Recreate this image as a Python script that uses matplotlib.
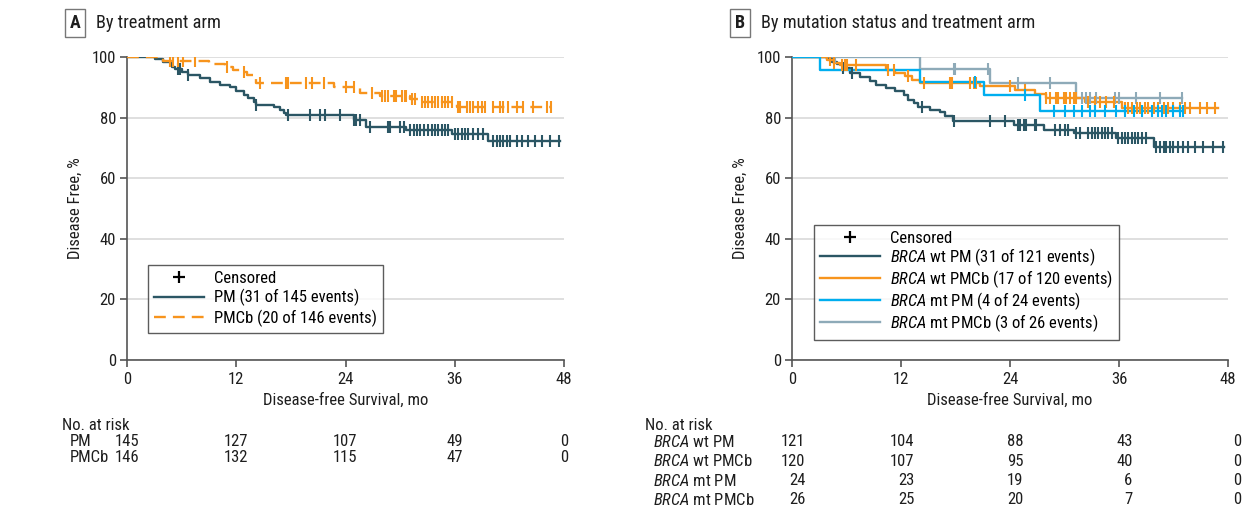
import numpy as np
import matplotlib
matplotlib.use("Agg")
import matplotlib.pyplot as plt
import matplotlib.transforms as mtransforms
import matplotlib.font_manager as fm
from matplotlib.lines import Line2D

# ---------------- Font selection (condensed face if available) ----------------
_entries = fm.fontManager.ttflist


def _has(name, stretch=None):
    return any(f.name == name and (stretch is None or f.stretch == stretch) for f in _entries)


FAM, STRETCH = 'DejaVu Sans', 'normal'
for cand in ['Liberation Sans Narrow', 'Roboto Condensed', 'Open Sans Condensed', 'Noto Sans Condensed']:
    if _has(cand):
        FAM, STRETCH = cand, 'normal'
        break
else:
    for cand in ['Noto Sans', 'Open Sans', 'Roboto', 'DejaVu Sans']:
        found = [f for f in _entries if f.name == cand and f.stretch in ('condensed', 'semi-condensed')]
        if found:
            FAM, STRETCH = cand, found[0].stretch
            break

plt.rcParams['font.family'] = [FAM, 'DejaVu Sans']
plt.rcParams['font.stretch'] = STRETCH
plt.rcParams['mathtext.fontset'] = 'custom'
_sfx = '' if STRETCH == 'normal' else ':' + STRETCH
plt.rcParams['mathtext.rm'] = FAM + _sfx
plt.rcParams['mathtext.it'] = FAM + ':italic' + _sfx
CONDENSED = (FAM != 'DejaVu Sans') or (STRETCH != 'normal')

# ---------------- Data ----------------
x_ticks = [0, 12, 24, 36, 48]
y_ticks = [0, 20, 40, 60, 80, 100]

# Panel A: PM
a_pm_t = [0, 3.1, 4.0, 4.9, 5.3, 6.0, 6.7, 8.0, 9.1, 10.2, 11.3, 12.0, 12.8, 13.3, 13.9, 14.2,
          16.1, 16.8, 17.2, 17.5, 24.9, 26.3, 30.7, 35.7, 39.6]
a_pm_s = [100, 99.2, 98.5, 96.8, 95.9, 95.2, 94.1, 93.0, 91.8, 90.8, 90.0, 88.9, 87.5, 86.4, 85.2, 84.2,
          83.6, 82.5, 81.6, 80.9, 79.2, 77.0, 75.9, 74.5, 72.3]
a_pm_end = 47.6
a_pm_cens = [5.6, 5.8, 6.7, 14.2, 17.7, 20.1, 21.2, 21.8, 23.4, 24.9, 25.2, 25.6, 26.7, 28.7, 28.9,
             30.0, 30.4, 31.1, 31.5, 31.8, 32.2, 32.6, 33.1, 33.5, 33.8, 34.2, 34.6, 34.9, 35.3,
             36.0, 36.4, 36.8, 37.1, 37.5, 38.0, 38.6, 39.1, 40.2, 40.6, 41.0, 41.3, 41.7, 42.1,
             42.8, 43.4, 44.1, 44.8, 45.6, 46.5, 47.4]

# Panel A: PMCb
a_pmcb_t = [0, 4.0, 9.0, 10.8, 11.6, 12.4, 13.2, 14.2, 22.7, 25.6, 27.8, 31.1, 32.2, 36.2]
a_pmcb_s = [100, 98.6, 97.6, 96.7, 95.7, 95.0, 94.1, 91.5, 90.0, 88.0, 87.1, 86.0, 85.3, 83.4]
a_pmcb_end = 46.6
a_pmcb_cens = [4.7, 5.1, 5.6, 6.2, 7.5, 11.0, 12.8, 14.6, 17.5, 17.7, 19.7, 20.3, 21.6, 24.0, 24.9,
               26.9, 28.0, 28.3, 28.7, 29.3, 29.6, 30.2, 30.5, 30.7, 31.3, 31.6, 32.4, 32.7, 33.1,
               33.5, 33.8, 34.2, 34.6, 34.9, 35.3, 35.7, 36.4, 36.6, 37.3, 37.7, 38.0, 38.6, 39.0,
               39.3, 40.2, 41.0, 41.3, 41.9, 42.8, 43.5, 44.6, 46.1, 46.6]

# Panel B: BRCA wt PM
b_wtpm_t = [0, 3.8, 4.4, 4.9, 5.6, 6.4, 7.5, 8.6, 9.3, 10.4, 11.3, 12.3, 12.8, 13.4, 13.9, 15.2,
            16.3, 16.8, 17.7, 24.4, 27.7, 31.1, 35.7, 39.8]
b_wtpm_s = [100, 99.2, 98.4, 97.6, 96.3, 94.8, 93.5, 92.2, 90.8, 89.7, 88.9, 87.5, 85.9, 84.8, 83.5, 82.4,
            81.7, 80.4, 78.9, 77.6, 75.9, 74.9, 73.2, 70.2]
b_wtpm_end = 47.6
b_wtpm_cens = [5.6, 6.6, 14.3, 17.8, 21.8, 23.4, 24.9, 25.1, 25.5, 25.8, 26.7, 26.9, 29.0, 29.5, 30.0,
               30.4, 31.3, 31.7, 32.6, 33.0, 33.4, 33.7, 34.1, 34.5, 34.8, 35.2, 35.9, 36.3, 36.7,
               37.0, 37.4, 37.8, 38.1, 38.5, 39.0, 40.1, 40.5, 40.9, 41.2, 41.6, 42.0, 42.5, 43.1,
               43.6, 44.4, 45.3, 46.4, 47.5]

# Panel B: BRCA wt PMCb
b_wtpmcb_t = [0, 3.8, 4.6, 5.3, 10.4, 11.3, 12.4, 13.2, 14.1, 20.7, 24.6, 26.8, 28.0, 32.3, 36.3]
b_wtpmcb_s = [100, 99.0, 98.1, 97.4, 95.7, 94.8, 93.7, 92.4, 91.3, 90.4, 89.1, 87.9, 86.4, 85.2, 83.1]
b_wtpmcb_end = 46.9
b_wtpmcb_cens = [4.2, 4.6, 5.5, 5.8, 6.0, 7.1, 10.6, 11.2, 12.8, 14.5, 17.4, 17.6, 19.6, 20.0, 20.3,
                 24.0, 25.7, 28.0, 28.4, 29.1, 29.3, 29.9, 30.2, 30.6, 31.0, 31.3, 32.6, 33.4, 33.9,
                 34.6, 35.4, 36.7, 37.0, 37.4, 38.0, 38.3, 38.9, 39.2, 39.8, 40.3, 40.9, 41.4, 42.0,
                 42.7, 43.3, 43.8, 44.9, 45.7, 46.6]

# Panel B: BRCA mt PM
b_mtpm_t = [0, 3.1, 14.1, 21.1, 27.3]
b_mtpm_s = [100, 95.8, 91.7, 87.5, 82.3]
b_mtpm_end = 43.0
b_mtpm_cens = [20.1, 25.7, 28.8, 30.1, 31.0, 31.9, 32.8, 33.4, 34.5, 35.7, 36.7, 37.6, 38.5, 39.6,
               40.3, 40.7, 41.2, 42.0, 42.7, 43.0]

# Panel B: BRCA mt PMCb
b_mtpmcb_t = [0, 14.1, 21.8, 31.3]
b_mtpmcb_s = [100, 96.2, 91.5, 86.4]
b_mtpmcb_end = 42.9
b_mtpmcb_cens = [4.7, 17.8, 18.0, 21.6, 24.9, 28.4, 31.9, 32.4, 32.8, 33.5, 35.6, 36.0, 37.9, 40.5, 42.9]

# Risk tables
a_risk_labels = ['PM', 'PMCb']
a_risk = [[145, 127, 107, 49, 0],
          [146, 132, 115, 47, 0]]
b_risk_labels = [r'$\mathit{BRCA}$ wt PM', r'$\mathit{BRCA}$ wt PMCb',
                 r'$\mathit{BRCA}$ mt PM', r'$\mathit{BRCA}$ mt PMCb']
b_risk = [[121, 104, 88, 43, 0],
          [120, 107, 95, 40, 0],
          [24, 23, 19, 6, 0],
          [26, 25, 20, 7, 0]]

a_labels = ['PM (31 of 145 events)', 'PMCb (20 of 146 events)']
b_labels = [r'$\mathit{BRCA}$ wt PM (31 of 121 events)',
            r'$\mathit{BRCA}$ wt PMCb (17 of 120 events)',
            r'$\mathit{BRCA}$ mt PM (4 of 24 events)',
            r'$\mathit{BRCA}$ mt PMCb (3 of 26 events)']

# ---------------- Style ----------------
C_PM = '#2b5664'
C_OR = '#f7941d'
C_BL = '#00aeef'
C_GR = '#8eaab8'
AX_C = '#555555'
TXT = '#1e1e1e'
FS = 12 if CONDENSED else 10.5

W, H = 1256, 527
fig = plt.figure(figsize=(W / 100, H / 100), dpi=100)


def fx(px):
    return px / W


def fy(py):
    return 1 - py / H


axA = fig.add_axes([fx(127), fy(360), fx(564 - 127), (360 - 57) / H])
axB = fig.add_axes([fx(792), fy(360), fx(1228 - 792), (360 - 57) / H])


def km(ax, t, s, end, cens, color, dashes=None):
    tt = list(t) + [end]
    ss = list(s) + [s[-1]]
    line, = ax.step(tt, ss, where='post', color=color, lw=1.7, zorder=3)
    if dashes is not None:
        line.set_dashes(dashes)
    t_arr = np.asarray(t)
    s_arr = np.asarray(s)
    c = np.asarray(cens)
    idx = np.searchsorted(t_arr, c, side='right') - 1
    ax.plot(c, s_arr[idx], linestyle='none', marker='|', markersize=8,
            mew=1.5, color=color, zorder=4)


def style(ax):
    ax.set_xlim(0, 48)
    ax.set_ylim(0, 100)
    ax.set_xticks(x_ticks)
    ax.set_yticks(y_ticks)
    for sp in ['top', 'right']:
        ax.spines[sp].set_visible(False)
    for sp in ['left', 'bottom']:
        ax.spines[sp].set_color(AX_C)
        ax.spines[sp].set_linewidth(1.2)
    ax.tick_params(axis='both', direction='out', length=5, width=1.2, color=AX_C,
                   labelsize=FS, labelcolor=TXT)
    ax.tick_params(axis='x', pad=4)
    ax.tick_params(axis='y', pad=3)
    ax.grid(axis='y', color='#d9d9d9', lw=1.2, zorder=0)
    ax.set_axisbelow(True)
    ax.set_xlabel('Disease-free Survival, mo', fontsize=FS, color=TXT, labelpad=4)
    ax.set_ylabel('Disease Free, %', fontsize=FS, color=TXT, labelpad=6)


style(axA)
style(axB)

km(axA, a_pm_t, a_pm_s, a_pm_end, a_pm_cens, C_PM)
km(axA, a_pmcb_t, a_pmcb_s, a_pmcb_end, a_pmcb_cens, C_OR, dashes=(5, 3))

km(axB, b_mtpmcb_t, b_mtpmcb_s, b_mtpmcb_end, b_mtpmcb_cens, C_GR)
km(axB, b_wtpm_t, b_wtpm_s, b_wtpm_end, b_wtpm_cens, C_PM)
km(axB, b_wtpmcb_t, b_wtpmcb_s, b_wtpmcb_end, b_wtpmcb_cens, C_OR)
km(axB, b_mtpm_t, b_mtpm_s, b_mtpm_end, b_mtpm_cens, C_BL)

# Legends
cens_h = Line2D([], [], color='k', marker='+', linestyle='none', markersize=9, mew=1.6)
hA = [cens_h,
      Line2D([], [], color=C_PM, lw=1.7),
      Line2D([], [], color=C_OR, lw=1.7, dashes=(5, 3))]
legA = axA.legend(hA, ['Censored'] + a_labels, loc='upper left',
                  bbox_to_anchor=((148 - 127) / 437, (360 - 265) / 303),
                  frameon=True, fancybox=False, edgecolor='#333333', fontsize=FS,
                  handlelength=3.0, handletextpad=0.6, borderpad=0.35, labelspacing=0.2,
                  borderaxespad=0)
legA.get_frame().set_linewidth(1.0)

hB = [cens_h,
      Line2D([], [], color=C_PM, lw=1.7),
      Line2D([], [], color=C_OR, lw=1.7),
      Line2D([], [], color=C_BL, lw=1.7),
      Line2D([], [], color=C_GR, lw=1.7)]
legB = axB.legend(hB, ['Censored'] + b_labels, loc='upper left',
                  bbox_to_anchor=((814 - 792) / 436, (360 - 225) / 303),
                  frameon=True, fancybox=False, edgecolor='#333333', fontsize=FS,
                  handlelength=3.6, handletextpad=0.6, borderpad=0.35, labelspacing=0.02,
                  borderaxespad=0)
legB.get_frame().set_linewidth(1.0)

# Panel titles
for px, letter, title in [(75, 'A', 'By treatment arm'),
                          (740, 'B', 'By mutation status and treatment arm')]:
    fig.text(fx(px), fy(23), letter, ha='center', va='center', fontsize=FS + 1, fontweight='bold',
             color=TXT, bbox=dict(boxstyle='square,pad=0.28', fc='white', ec='#777777', lw=1.0))
    fig.text(fx(px + 21), fy(23), title, ha='left', va='center', fontsize=FS + 1.2, color=TXT)

# Risk tables
transA = mtransforms.blended_transform_factory(axA.transData, fig.transFigure)
transB = mtransforms.blended_transform_factory(axB.transData, fig.transFigure)

fig.text(fx(62), fy(425), 'No. at risk', ha='left', va='center', fontsize=FS, color=TXT)
for i, (lab, row) in enumerate(zip(a_risk_labels, a_risk)):
    yy = fy(441 + 16 * i)
    fig.text(fx(70), yy, lab, ha='left', va='center', fontsize=FS, color=TXT)
    for xv, n in zip(x_ticks, row):
        fig.text(xv, yy, str(n), transform=transA, ha='center', va='center',
                 fontsize=FS, color=TXT)

fig.text(fx(645), fy(425), 'No. at risk', ha='left', va='center', fontsize=FS, color=TXT)
for i, (lab, row) in enumerate(zip(b_risk_labels, b_risk)):
    yy = fy(442 + 19.3 * i)
    fig.text(fx(653), yy, lab, ha='left', va='center', fontsize=FS, color=TXT)
    for xv, n in zip(x_ticks, row):
        fig.text(xv + 1.5, yy, str(n), transform=transB, ha='right', va='center',
                 fontsize=FS, color=TXT)

fig.savefig('out.png', dpi=100)
